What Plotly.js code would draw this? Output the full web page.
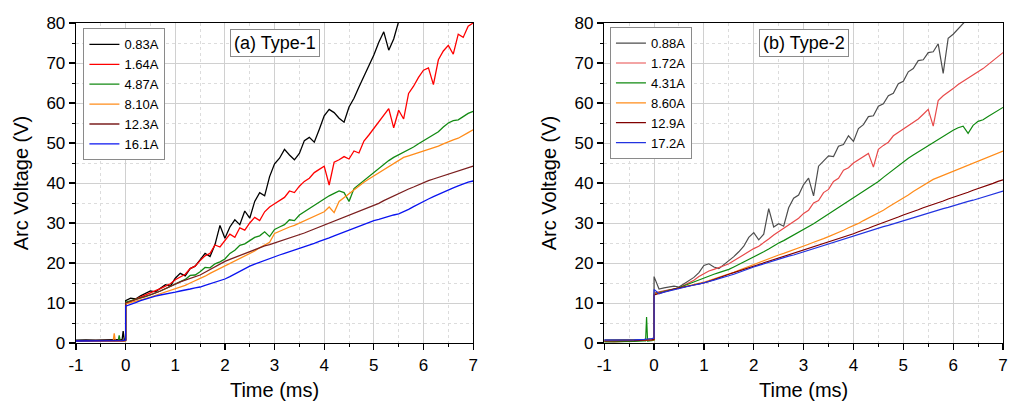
<!DOCTYPE html>
<html>
<head>
<meta charset="utf-8">
<script src="https://cdn.plot.ly/plotly-3.0.1.min.js"></script>
<style>
  html, body { margin: 0; padding: 0; background: #fff; }
  #chart { width: 1010px; height: 401px; }
</style>
</head>
<body>
<div id="chart"></div>
<script>
// Shared time grid after arc ignition (ms)
const timeMs = [0,0.1,0.2,0.3,0.4,0.5,0.6,0.7,0.8,0.9,1,1.1,1.2,1.3,1.4,1.5,1.6,1.7,1.8,1.9,
  2,2.1,2.2,2.3,2.4,2.5,2.6,2.7,2.8,2.9,3,3.1,3.2,3.3,3.4,3.5,3.6,3.7,3.8,3.9,
  4,4.1,4.2,4.3,4.4,4.5,4.6,4.7,4.8,4.9,5,5.1,5.2,5.3,5.4,5.5,5.6,5.7,5.8,5.9,
  6,6.1,6.2,6.3,6.4,6.5,6.6,6.7,6.8,6.9,7];

// Pre-ignition samples (ms)
const preTimeA = [-1,-0.8,-0.6,-0.4,-0.25,-0.23,-0.21,-0.15,-0.13,-0.11,-0.07,-0.05,-0.03,0];
const preTimeB = [-1,-0.8,-0.6,-0.4,-0.2,-0.17,-0.15,-0.13,-0.05,0];

const xTickVals = [-1,0,1,2,3,4,5,6,7];
const xTickText = ['-1','0','1','2','3','4','5','6','7'];

// (a) Type-1 currents
const namesA = ['0.83A','1.64A','4.87A','8.10A','12.3A','16.1A'];
const preA083 = [0.7,0.8,0.7,0.8,0.8,0.8,0.8,0.8,0.8,0.8,0.9,3.0,0.9,0.9];
const preA164 = [0.5,0.5,0.4,0.5,0.5,0.5,0.5,0.5,0.5,0.5,0.5,0.5,0.5,0.6];
const preA487 = [0.6,0.6,0.6,0.6,0.6,0.6,0.6,0.6,1.9,0.6,0.6,0.6,0.6,0.6];
const preA810 = [0.6,0.6,0.6,0.6,0.6,2.4,0.6,0.6,0.6,0.6,0.6,0.6,0.6,0.6];
const preA123 = [0.6,0.6,0.6,0.6,0.6,0.6,0.6,0.6,0.6,0.6,0.6,0.6,0.7,0.7];
const preA161 = [0.5,0.5,0.6,0.6,0.6,0.6,0.6,0.6,0.6,0.6,0.6,0.6,0.7,0.7];

const voltA083 = [10.6,11.2,11.0,11.8,12.4,13.0,12.8,13.6,14.6,14.2,
  16.2,17.4,16.8,18.6,19.2,20.8,22.4,21.6,24.6,29.4,
  26.2,29.0,30.8,29.6,33.0,31.2,35.4,37.6,36.8,41.6,
  44.8,46.2,48.4,47.0,45.8,47.4,50.6,51.4,50.2,53.4,
  56.8,58.4,57.6,56.2,55.2,59.0,61.2,64.0,66.6,69.2,
  72.0,75.2,77.8,73.2,76.0,80.4,82.0];
const voltA164 = [10.0,10.4,10.9,11.5,12.0,12.6,13.1,13.6,14.2,14.8,
  15.8,16.5,17.2,18.6,19.2,20.6,21.8,22.4,24.5,24.0,
  25.6,27.2,26.4,28.8,28.2,30.0,31.4,30.6,32.8,34.0,
  34.8,35.6,36.4,38.0,37.6,39.2,40.4,41.2,42.6,43.4,
  44.2,39.5,45.2,45.8,46.6,46.0,48.0,47.5,50.5,52.0,
  53.6,55.2,56.8,58.6,53.8,58.2,56.0,62.4,64.2,66.4,
  68.2,68.8,64.6,70.8,73.0,74.4,72.2,77.2,76.4,79.2,
  80.0];
const voltA487 = [10.2,10.6,10.9,11.3,11.6,12.0,12.5,13.0,13.6,14.2,
  14.8,15.4,15.9,16.9,17.0,17.8,18.9,18.8,19.8,20.3,
  21.0,22.4,23.2,24.4,24.8,25.6,26.4,26.8,27.8,26.6,
  28.4,29.0,29.6,30.8,30.6,32.0,32.8,33.6,34.6,35.2,
  36.0,36.8,37.4,38.0,37.6,35.4,38.6,39.6,40.8,41.6,
  42.6,43.8,44.8,45.6,46.4,47.0,47.6,48.2,49.0,49.8,
  50.6,51.4,52.2,52.8,54.0,55.0,55.6,55.8,56.6,57.4,
  57.9];
const voltA810 = [9.8,10.1,10.4,10.7,11.1,11.5,11.9,12.3,12.8,13.2,
  13.6,14.0,14.4,15.0,15.5,16.0,16.7,17.4,18.0,18.6,
  19.2,19.8,20.4,21.2,21.8,22.4,23.0,23.8,24.4,25.2,
  27.4,28.0,28.4,29.0,29.4,30.0,30.4,31.0,31.6,32.2,
  32.8,34.0,32.6,35.4,36.4,37.4,38.2,39.2,40.2,41.0,
  41.8,42.6,43.4,44.2,45.0,45.8,46.4,46.8,47.2,47.6,
  48.0,48.4,48.8,49.2,49.8,50.4,50.8,51.2,51.8,52.6,
  53.3];
const voltA123 = [10.0,10.4,10.8,11.2,11.6,12.0,12.5,13.0,13.6,14.2,
  14.9,15.3,15.7,16.1,16.6,17.0,17.7,18.4,19.1,19.8,
  20.4,20.9,21.4,21.9,22.4,22.8,23.3,23.8,24.3,24.6,
  25.0,25.4,25.8,26.2,26.6,27.0,27.5,28.0,28.5,29.0,
  29.5,30.0,30.5,31.0,31.5,32.0,32.5,33.0,33.4,33.8,
  34.3,34.9,35.6,36.2,36.9,37.5,38.0,38.5,39.0,39.6,
  40.2,40.6,41.0,41.4,41.8,42.3,42.6,43.0,43.4,43.8,
  44.2];
const voltA161 = [9.2,9.6,10.1,10.6,11.0,11.4,11.7,12.0,12.2,12.5,
  12.7,13.0,13.2,13.5,13.8,14.0,14.4,14.8,15.2,15.6,
  16.0,16.6,17.3,18.0,18.6,19.2,19.7,20.2,20.7,21.1,
  21.6,22.0,22.4,22.8,23.2,23.6,24.0,24.5,24.9,25.4,
  25.8,26.3,26.8,27.3,27.8,28.3,28.8,29.3,29.8,30.2,
  30.6,30.9,31.3,31.7,32.0,32.3,32.8,33.4,34.1,34.8,
  35.4,36.0,36.6,37.2,37.8,38.3,38.8,39.3,39.8,40.2,
  40.5];

// (b) Type-2 currents
const namesB = ['0.88A','1.72A','4.31A','8.60A','12.9A','17.2A'];
const preB088 = [0.8,0.8,0.8,0.8,0.9,0.9,0.9,0.9,1.0,1.0];
const preB172 = [0.4,0.3,0.4,0.5,0.6,0.6,0.6,0.6,0.8,0.9];
const preB431 = [0.3,0.3,0.3,0.4,0.5,0.5,6.5,0.5,0.6,0.7];
const preB860 = [0.6,0.6,0.6,0.6,0.7,0.7,0.7,0.7,0.8,0.8];
const preB129 = [0.5,0.5,0.6,0.6,0.7,0.7,0.7,0.7,0.8,0.9];
const preB172b = [0.7,0.7,0.8,0.8,0.9,0.9,1.0,1.0,1.1,1.2];

const voltB088 = [16.6,13.5,13.8,14.0,14.2,14.0,14.8,15.4,16.4,17.6,
  19.4,19.8,19.0,18.6,19.6,20.4,21.6,22.8,24.2,26.4,
  27.6,25.8,27.2,33.6,29.0,29.8,29.2,33.8,36.2,37.0,
  39.6,41.2,36.8,44.2,45.4,46.8,46.6,49.2,49.6,51.8,
  50.4,53.6,54.6,56.6,56.8,59.2,59.8,61.8,62.4,64.8,
  65.4,67.8,68.6,70.6,70.8,72.6,72.8,74.8,67.4,76.2,
  77.2,78.6,80.0,81.2];
const voltB172 = [12.5,12.8,13.1,13.3,13.5,13.7,14.4,15.0,15.7,16.6,
  17.4,18.0,18.4,18.8,19.3,19.8,20.6,21.4,22.2,23.0,
  23.6,24.2,25.0,26.0,27.0,27.8,28.6,29.4,30.4,31.2,
  32.4,33.2,35.0,35.6,37.6,38.4,40.4,41.2,43.2,43.8,
  45.0,45.8,46.6,47.4,44.0,48.4,49.4,50.2,51.8,52.6,
  53.4,54.2,55.0,56.0,57.2,58.4,54.2,60.6,61.8,62.6,
  63.6,64.6,65.4,66.0,66.8,67.8,68.6,69.6,70.6,71.6,
  72.6];
const voltB431 = [12.3,12.6,12.9,13.2,13.5,13.8,14.3,14.8,15.3,15.9,
  16.4,16.8,17.2,17.6,18.0,18.4,19.0,19.6,20.2,20.8,
  21.4,22.1,22.8,23.5,24.3,25.0,25.6,26.3,27.0,27.6,
  28.2,29.0,29.8,30.6,31.4,32.2,33.0,33.8,34.6,35.4,
  36.3,37.2,38.0,38.8,39.6,40.4,41.4,42.4,43.4,44.4,
  45.4,46.2,47.0,47.8,48.6,49.4,50.2,51.0,51.8,52.6,
  53.2,53.8,54.2,52.4,54.4,55.4,55.8,56.6,57.4,58.2,
  58.9];
const voltB860 = [12.2,12.5,12.8,13.1,13.3,13.6,13.9,14.2,14.5,14.9,
  15.2,15.6,16.0,16.4,16.8,17.2,17.7,18.2,18.7,19.1,
  19.6,20.1,20.6,21.1,21.5,22.0,22.4,22.9,23.3,23.8,
  24.2,24.7,25.2,25.6,26.1,26.6,27.1,27.7,28.2,28.8,
  29.3,29.9,30.6,31.2,31.9,32.5,33.2,34.0,34.7,35.5,
  36.2,37.0,37.9,38.7,39.5,40.3,40.9,41.4,41.9,42.5,
  43.0,43.5,44.0,44.5,45.0,45.5,46.0,46.5,47.0,47.5,
  48.0];
const voltB129 = [12.0,12.4,12.8,13.1,13.5,13.8,14.0,14.3,14.5,14.8,
  15.0,15.4,15.9,16.3,16.8,17.2,17.6,18.0,18.4,18.8,
  19.2,19.6,20.0,20.4,20.8,21.2,21.6,22.0,22.4,22.8,
  23.2,23.6,24.0,24.4,24.8,25.2,25.6,26.0,26.4,26.9,
  27.3,27.8,28.2,28.7,29.2,29.7,30.2,30.6,31.1,31.5,
  32.0,32.4,32.9,33.3,33.8,34.2,34.6,35.1,35.5,36.0,
  36.4,36.8,37.3,37.7,38.2,38.6,39.0,39.5,39.9,40.4,
  40.8];
const voltB172b = [13.4,12.3,12.7,13.0,13.4,13.7,14.0,14.2,14.5,14.7,
  15.0,15.4,15.7,16.1,16.4,16.8,17.2,17.7,18.1,18.6,
  19.0,19.4,19.8,20.1,20.5,20.9,21.3,21.7,22.0,22.4,
  22.8,23.2,23.6,24.0,24.4,24.8,25.2,25.6,26.0,26.4,
  26.8,27.2,27.6,27.9,28.3,28.7,29.1,29.4,29.8,30.1,
  30.5,30.9,31.3,31.7,32.1,32.5,32.9,33.2,33.6,33.9,
  34.3,34.7,35.0,35.4,35.7,36.1,36.5,36.8,37.2,37.6,
  38.0];

const colorsA = ['#000000','#ff0000','#138a13','#ff8c1a','#7b1f1f','#0a14f0'];
const colorsB = ['#4d4d4d','#e84a4a','#108a10','#ff8c1a','#800000','#2233e0'];

const seriesA = [
  [preA083, voltA083], [preA164, voltA164], [preA487, voltA487],
  [preA810, voltA810], [preA123, voltA123], [preA161, voltA161]
];
const seriesB = [
  [preB088, voltB088], [preB172, voltB172], [preB431, voltB431],
  [preB860, voltB860], [preB129, voltB129], [preB172b, voltB172b]
];

const traces = [];
seriesA.forEach(([pre, post], i) => {
  traces.push({
    type: 'scatter', mode: 'lines', xaxis: 'x', yaxis: 'y', legend: 'legend',
    name: namesA[i],
    x: preTimeA.concat(timeMs.slice(0, post.length)),
    y: pre.concat(post),
    line: { color: colorsA[i], width: 1.3 }
  });
});
seriesB.forEach(([pre, post], i) => {
  traces.push({
    type: 'scatter', mode: 'lines', xaxis: 'x2', yaxis: 'y2', legend: 'legend2',
    name: namesB[i],
    x: preTimeB.concat(timeMs.slice(0, post.length)),
    y: pre.concat(post),
    line: { color: colorsB[i], width: 1.2 }
  });
});

const FONT = 'Arial, "Liberation Sans", sans-serif';

function xAxis(domain, anchor) {
  return {
    domain: domain, anchor: anchor, range: [-1, 7],
    tickmode: 'array', tickvals: xTickVals, ticktext: xTickText,
    ticks: 'outside', ticklen: 6, tickwidth: 1.2, tickcolor: '#000',
    showline: true, linecolor: '#000', linewidth: 1.3, mirror: true,
    showgrid: true, gridcolor: '#d0d0d0', gridwidth: 1, zeroline: false,
    minor: { dtick: 0.5, tick0: 0, ticks: 'outside', ticklen: 3, tickwidth: 1, tickcolor: '#000',
             showgrid: true, gridcolor: '#dcdcdc', griddash: 'dot', gridwidth: 1 },
    tickfont: { size: 17, color: '#000', family: FONT },
    title: { text: 'Time (ms)', font: { size: 20, color: '#000', family: FONT }, standoff: 10 }
  };
}
function yAxis(anchor) {
  return {
    domain: [0, 1], anchor: anchor, range: [0, 80], dtick: 10, tick0: 0,
    ticks: 'outside', ticklen: 6, tickwidth: 1.2, tickcolor: '#000',
    showline: true, linecolor: '#000', linewidth: 1.3, mirror: true,
    showgrid: true, gridcolor: '#d0d0d0', gridwidth: 1, zeroline: false,
    minor: { dtick: 5, ticks: 'outside', ticklen: 3, tickwidth: 1, tickcolor: '#000',
             showgrid: true, gridcolor: '#dcdcdc', griddash: 'dot', gridwidth: 1 },
    tickfont: { size: 17, color: '#000', family: FONT },
    title: { text: 'Arc Voltage (V)', font: { size: 20, color: '#000', family: FONT }, standoff: 12 }
  };
}

const legendBase = {
  xanchor: 'left', yanchor: 'top', bgcolor: '#ffffff', bordercolor: '#8a8a8a', borderwidth: 1,
  font: { size: 13, color: '#000', family: FONT }, tracegroupgap: 0, itemwidth: 30
};

const layout = {
  width: 1010, height: 401,
  margin: { l: 76, r: 7, t: 23, b: 58 },
  paper_bgcolor: '#fff', plot_bgcolor: '#fff',
  font: { family: FONT, color: '#000' },
  showlegend: true,
  xaxis: xAxis([0, 0.4284], 'y'),
  yaxis: yAxis('x'),
  xaxis2: xAxis([0.5698, 1], 'y2'),
  yaxis2: yAxis('x2'),
  legend: Object.assign({ x: 0.008, y: 0.983 }, legendBase),
  legend2: Object.assign({ x: 0.576, y: 0.987 }, legendBase),
  annotations: [
    { xref: 'x', yref: 'y', x: 3, y: 75, text: '(a) Type-1', showarrow: false,
      font: { size: 18, color: '#000', family: FONT }, bgcolor: '#fff',
      bordercolor: '#8a8a8a', borderwidth: 1, borderpad: 3 },
    { xref: 'x2', yref: 'y2', x: 3, y: 75, text: '(b) Type-2', showarrow: false,
      font: { size: 18, color: '#000', family: FONT }, bgcolor: '#fff',
      bordercolor: '#8a8a8a', borderwidth: 1, borderpad: 3 }
  ]
};

Plotly.newPlot('chart', traces, layout, { displayModeBar: false, staticPlot: true });
</script>
</body>
</html>
